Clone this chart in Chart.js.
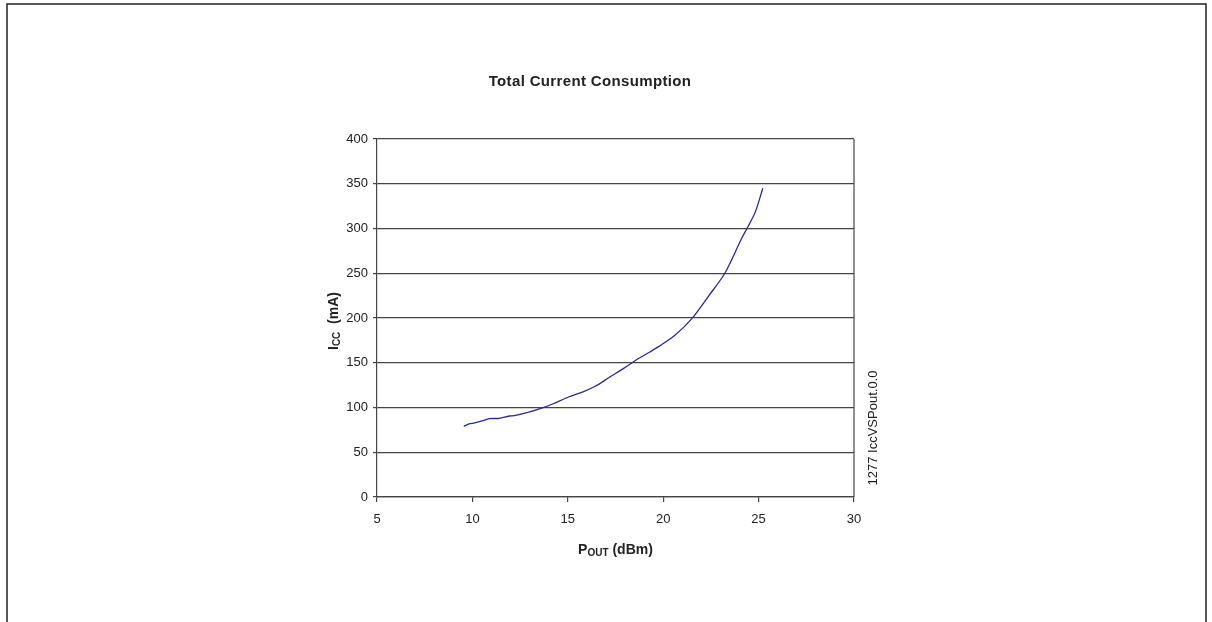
<!doctype html>
<html lang="en">
<head>
  <meta charset="utf-8" />
  <title>Total Current Consumption</title>
  <script src="https://cdn.jsdelivr.net/npm/chart.js@4.4.1/dist/chart.umd.min.js"></script>
  <style>
    html, body { margin: 0; padding: 0; background: #fff; }
    .chartContainer { position: relative; width: 1212px; height: 622px; }
  </style>
</head>
<body>
<div class="chartContainer">
  <canvas id="iccChart"></canvas>
</div>
<script>
  // Pout (dBm) vs Icc (mA)
  const pout = [9.55, 9.86, 10.07, 10.5, 10.9, 11.4, 11.94, 12.2, 13.0, 13.7, 14.2, 15.07, 15.8, 16.46,
                17.2, 17.95, 18.54, 19.3, 19.76, 20.63, 21.49, 22.36, 23.23, 24.09, 24.44, 24.82, 25.22];
  const icc = [79, 82, 82.6, 85, 87.5, 87.9, 90.5, 90.8, 95, 99.8, 103.9, 112, 117.5, 124,
               134, 144, 152.5, 162, 168, 181, 199, 224, 250, 288, 302, 318, 345];
  const xTicks = [5, 10, 15, 20, 25, 30];
  const yTicks = [0, 50, 100, 150, 200, 250, 300, 350, 400];

  const titleText = 'Total Current Consumption';
  const sideNote = '1277 IccVSPout.0.0';
  const fontFam = '"Liberation Sans", Arial, sans-serif';

  // draw text with a subscript part: [[text, isSub], ...]
  function drawSubText(ctx, parts, cx, cy, rotate) {
    ctx.save();
    ctx.translate(cx, cy);
    if (rotate) ctx.rotate(-Math.PI / 2);
    let total = 0;
    parts.forEach(p => {
      ctx.font = 'bold ' + (p[1] ? 10 : 14) + 'px ' + fontFam;
      total += ctx.measureText(p[0]).width;
    });
    let x = -total / 2;
    ctx.textBaseline = 'middle';
    ctx.textAlign = 'left';
    ctx.fillStyle = '#222';
    parts.forEach(p => {
      ctx.font = 'bold ' + (p[1] ? 10 : 14) + 'px ' + fontFam;
      ctx.fillText(p[0], x, p[1] ? 3 : 0);
      x += ctx.measureText(p[0]).width;
    });
    ctx.restore();
  }

  const decorations = {
    id: 'decorations',
    afterDraw(chart) {
      const ctx = chart.ctx;
      const a = chart.chartArea;
      // outer frame (no bottom edge)
      ctx.save();
      ctx.strokeStyle = '#222';
      ctx.lineWidth = 1.5;
      ctx.beginPath();
      ctx.moveTo(7, 622);
      ctx.lineTo(7, 4);
      ctx.lineTo(1206, 4);
      ctx.lineTo(1206, 622);
      ctx.stroke();
      // right plot border
      ctx.strokeStyle = '#444';
      ctx.lineWidth = 1.2;
      ctx.beginPath();
      ctx.moveTo(a.right, a.top);
      ctx.lineTo(a.right, a.bottom);
      ctx.stroke();
      // title
      ctx.fillStyle = '#222';
      ctx.font = 'bold 15px ' + fontFam;
      ctx.letterSpacing = '0.35px';
      ctx.textAlign = 'center';
      ctx.textBaseline = 'middle';
      ctx.fillText(titleText, 590, 82);
      ctx.letterSpacing = '0px';
      // side note
      ctx.translate(a.right + 19, 428);
      ctx.rotate(-Math.PI / 2);
      ctx.font = '13px ' + fontFam;
      ctx.fillStyle = '#222';
      ctx.fillText(sideNote, 0, 0);
      ctx.restore();
      // axis titles with subscripts
      drawSubText(ctx, [['P', false], ['OUT', true], [' (dBm)', false]], (a.left + a.right) / 2, 550, false);
      drawSubText(ctx, [['I', false], ['CC', true], ['  (mA)', false]], 334, (a.top + a.bottom) / 2 + 3, true);
    }
  };

  const ctx = document.getElementById('iccChart').getContext('2d');
  const chart = new Chart(ctx, {
    type: 'line',
    data: {
      datasets: [{
        data: pout.map((x, i) => ({ x: x, y: icc[i] })),
        borderColor: '#2a2a95',
        borderWidth: 1.3,
        pointRadius: 0,
        tension: 0.3,
        fill: false
      }]
    },
    options: {
      responsive: true,
      maintainAspectRatio: false,
      animation: false,
      devicePixelRatio: 1,
      layout: { padding: { top: 139, right: 358, left: 0, bottom: 0 } },
      plugins: {
        legend: { display: false },
        title: { display: false },
        tooltip: { enabled: false }
      },
      scales: {
        x: {
          type: 'linear',
          min: 5,
          max: 30,
          afterBuildTicks: s => { s.ticks = xTicks.map(v => ({ value: v })); },
          afterFit: s => { s.height = 125; },
          grid: { drawOnChartArea: false, tickLength: 5, color: '#444', tickColor: '#444', lineWidth: 1.2 },
          border: { color: '#444', width: 1.2 },
          ticks: { color: '#222', font: { family: fontFam, size: 13 }, padding: 10, maxRotation: 0 }
        },
        y: {
          type: 'linear',
          min: 0,
          max: 400,
          afterBuildTicks: s => { s.ticks = yTicks.map(v => ({ value: v })); },
          afterFit: s => { s.width = 377; },
          grid: { tickLength: 4, color: '#444', tickColor: '#444', lineWidth: 1.2 },
          border: { color: '#444', width: 1.2 },
          ticks: { color: '#222', font: { family: fontFam, size: 13 }, padding: 5 }
        }
      }
    },
    plugins: [decorations]
  });
</script>
</body>
</html>
